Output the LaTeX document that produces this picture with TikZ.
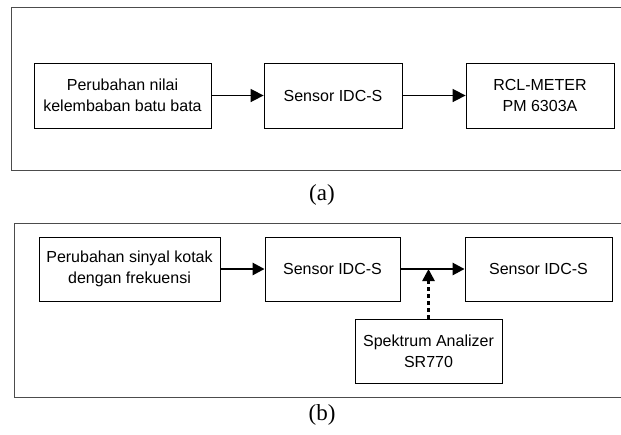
\documentclass[tikz,border=0pt]{standalone}
\usepackage{fontspec}
\setmainfont{Liberation Sans}
\newfontfamily\capfont{Liberation Serif}
\usetikzlibrary{arrows.meta}
\tikzset{
	blok/.style={draw, line width=0.8pt, inner sep=0pt, align=center,
		font=\fontsize{16}{21}\selectfont},
	panah/.style={line width=1.6pt, -{Triangle[length=13pt,width=13pt]}},
	panahtebal/.style={line width=2.6pt, -{Triangle[length=12pt,width=12pt]}},
	bingkai/.style={draw=black!70, line width=1pt},
	keterangan/.style={font=\capfont\fontsize{23}{27}\selectfont}
}
\begin{document}
\begin{tikzpicture}[x=1pt,y=-1pt]
	\useasboundingbox (0,0) rectangle (621,434);
	% (a)
	\draw[bingkai] (622,7.5) -- (11,7.5) -- (11,170) -- (622,170);
	\node[blok, minimum width=177pt, minimum height=65pt] at (122.5,95.5) (a1) {Perubahan nilai\\kelembaban batu bata};
	\node[blok, minimum width=138pt, minimum height=65pt] at (333,95.5) (a2) {Sensor IDC-S};
	\node[blok, minimum width=148pt, minimum height=65pt] at (540,95.5) (a3) {RCL-METER\\PM 6303A};
	\draw[panah] (a1) -- (a2);
	\draw[panah] (a2) -- (a3);
	\node[keterangan] at (322,195) (capa) {(a)};
	% (b)
	\draw[bingkai] (622,223) -- (14,223) -- (14,397) -- (622,397);
	\node[blok, minimum width=181pt, minimum height=64pt] at (129.5,269) (b1) {Perubahan sinyal kotak\\dengan frekuensi};
	\node[blok, minimum width=135pt, minimum height=64pt] at (332.5,269) (b2) {Sensor IDC-S};
	\node[blok, minimum width=147pt, minimum height=64pt] at (538.5,269) (b3) {Sensor IDC-S};
	\node[blok, minimum width=147pt, minimum height=64pt] at (428.5,351) (spek) {Spektrum Analizer\\SR770};
	\coordinate (tap) at (spek.north |- b2.east);
	\draw[panahtebal] (b1) -- (b2);
	\draw[panahtebal] (b2) -- (b3);
	\draw[panahtebal, dashed, dash pattern=on 4pt off 3pt] (spek.north) -- (tap);
	\node[keterangan] at (322,415) (capb) {(b)};
\end{tikzpicture}
\end{document}
